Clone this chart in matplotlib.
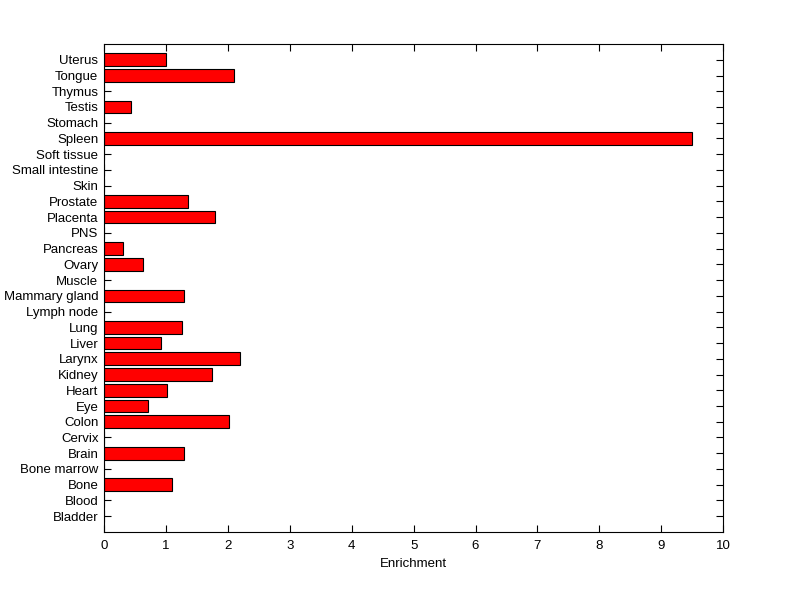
import matplotlib
matplotlib.use("Agg")
import matplotlib.pyplot as plt

categories = ["Bladder", "Blood", "Bone", "Bone marrow", "Brain", "Cervix", "Colon", "Eye",
              "Heart", "Kidney", "Larynx", "Liver", "Lung", "Lymph node", "Mammary gland",
              "Muscle", "Ovary", "Pancreas", "PNS", "Placenta", "Prostate", "Skin",
              "Small intestine", "Soft tissue", "Spleen", "Stomach", "Testis", "Thymus",
              "Tongue", "Uterus"]
values = [0, 0, 1.10, 0, 1.29, 0, 2.02, 0.71,
          1.02, 1.75, 2.20, 0.92, 1.26, 0, 1.29,
          0, 0.63, 0.31, 0, 1.80, 1.36, 0,
          0, 0, 9.50, 0, 0.44, 0,
          2.10, 1.00]
xticks = list(range(0, 11))

plt.rcParams['font.family'] = ['Liberation Sans', 'DejaVu Sans']
fig = plt.figure(figsize=(8.0, 5.99), dpi=100)
ax = fig.add_axes([0.13, 0.112, 0.774, 0.8145])
ax.set_axisbelow(True)
pos = list(range(1, len(categories) + 1))
ax.barh(pos, values, height=0.8, color='#ff0000', edgecolor='black', linewidth=0.8)
ax.set_xlim(0, 10)
ax.set_ylim(0, 31)
ax.set_xticks(xticks)
ax.set_yticks(pos)
ax.set_yticklabels(categories)
ax.set_xlabel("Enrichment", fontsize=9.5, labelpad=4)
ax.tick_params(direction='in', length=5, width=0.8, top=True, right=True, labelsize=9.5)
ax.tick_params(axis='x', pad=6)
ax.tick_params(axis='y', pad=4)
for s in ax.spines.values():
    s.set_linewidth(0.8)
fig.savefig("out.png", dpi=100, facecolor='white')
